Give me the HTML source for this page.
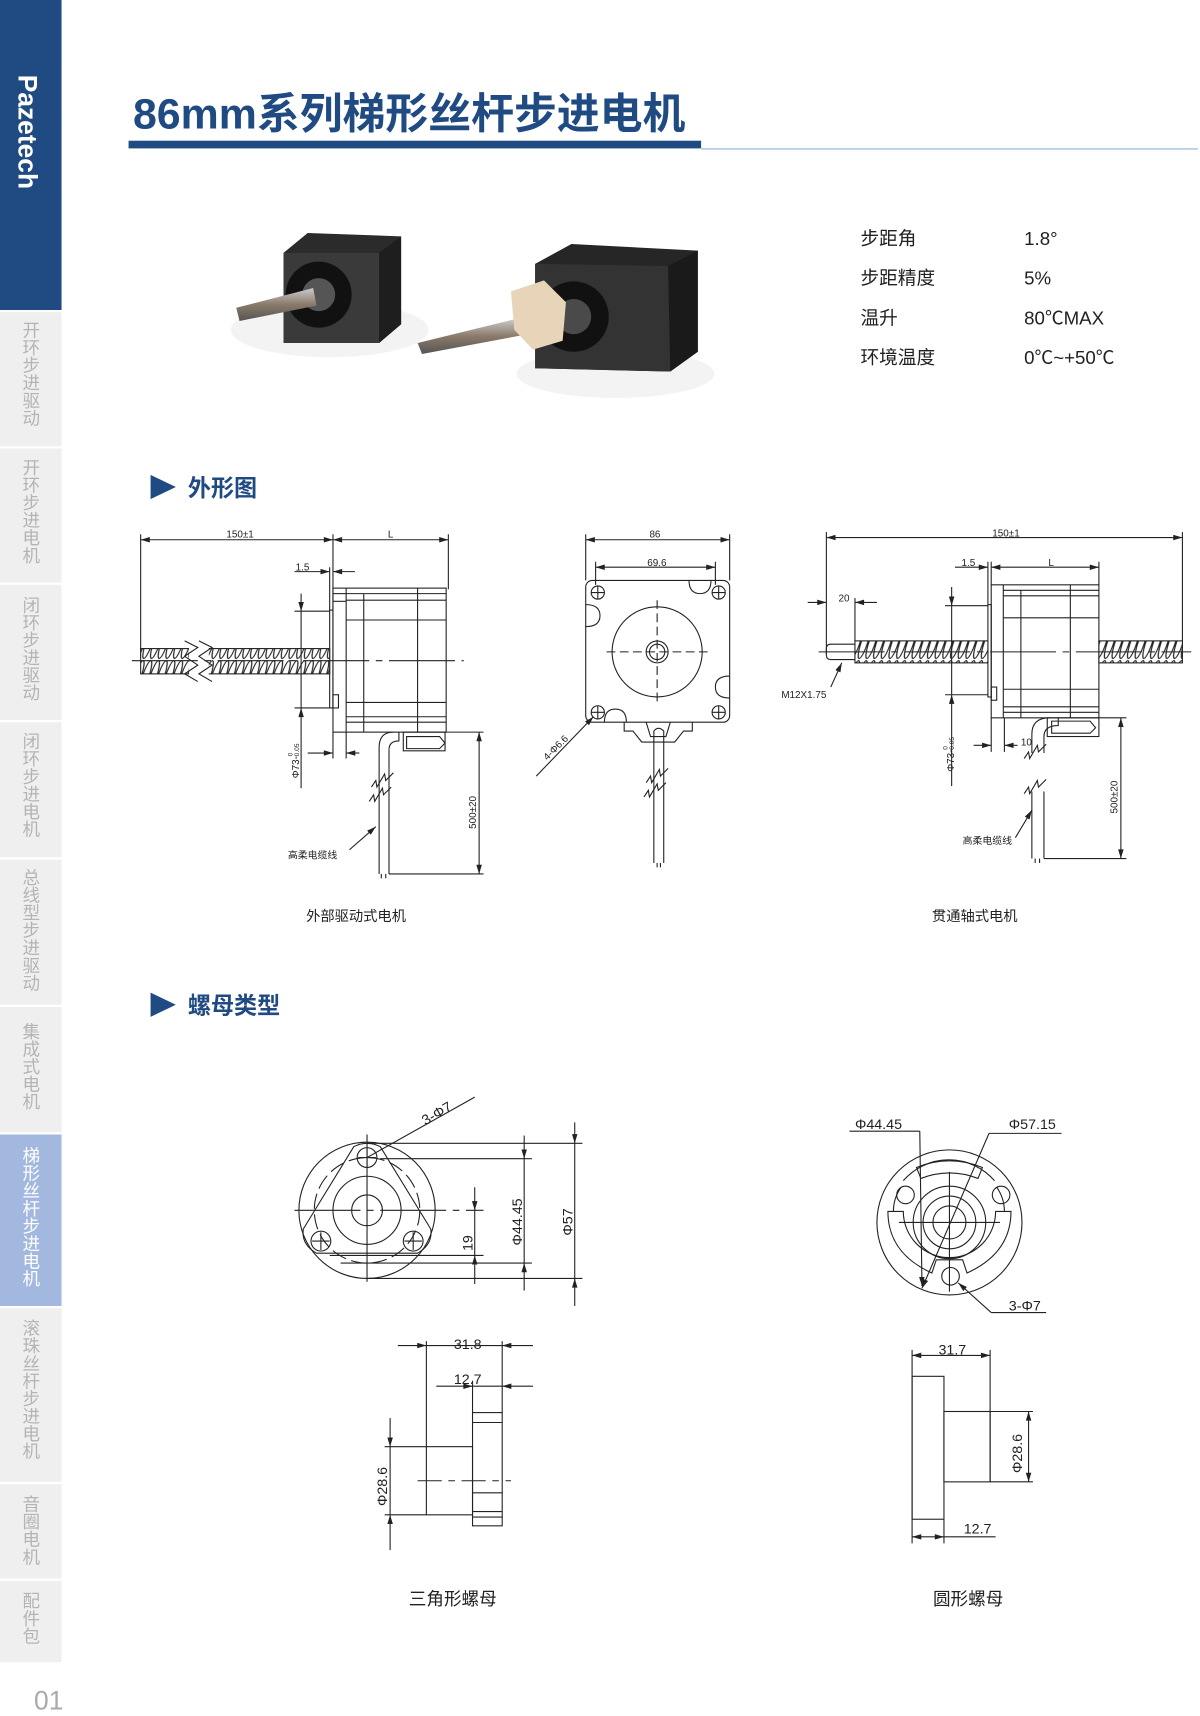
<!DOCTYPE html>
<html><head><meta charset="utf-8"><style>
html,body{margin:0;padding:0;background:#fff;}
svg{display:block}
text{font-family:"Liberation Sans","Noto Sans CJK SC",sans-serif;}
</style></head><body>
<svg width="1200" height="1716" viewBox="0 0 1092 1561" preserveAspectRatio="none" xmlns="http://www.w3.org/2000/svg">
<defs>
<pattern id="thr" width="7" height="30" patternUnits="userSpaceOnUse" patternTransform="skewX(-18)">
<rect width="7" height="30" fill="#fff"/>
<ellipse cx="3.5" cy="15" rx="3" ry="14" fill="none" stroke="#222" stroke-width="1.1"/>
</pattern>
<marker id="a" viewBox="0 0 10 6" refX="10" refY="3" markerWidth="9" markerHeight="5" orient="auto-start-reverse" markerUnits="userSpaceOnUse"><path d="M0,0L10,3L0,6z" fill="#222"/></marker>
<linearGradient id="sh" x1="0" y1="0" x2="0" y2="1"><stop offset="0" stop-color="#ccc"/><stop offset="0.5" stop-color="#8a7a6a"/><stop offset="1" stop-color="#555"/></linearGradient>
</defs>

<!-- sidebar -->
<rect x="0" y="0" width="56" height="282" fill="#1f4a82"/>
<text transform="translate(17,68) rotate(90)" font-size="24" font-weight="bold" fill="#fff">Pazetech</text>
<g fill="#efefef">
<rect x="0" y="284" width="56" height="122"/>
<rect x="0" y="408" width="56" height="122"/>
<rect x="0" y="532" width="56" height="123"/>
<rect x="0" y="657" width="56" height="123"/>
<rect x="0" y="782" width="56" height="132"/>
<rect x="0" y="916" width="56" height="114"/>
<rect x="0" y="1190" width="56" height="158"/>
<rect x="0" y="1350" width="56" height="86"/>
<rect x="0" y="1438" width="56" height="74"/>
</g>
<rect x="0" y="1032" width="56" height="156" fill="#a3b8df"/>
<g font-size="16" fill="#b4b4b4" style="writing-mode:vertical-rl">
<text x="28" y="292">开环步进驱动</text>
<text x="28" y="417">开环步进电机</text>
<text x="28" y="542">闭环步进驱动</text>
<text x="28" y="666">闭环步进电机</text>
<text x="28" y="790">总线型步进驱动</text>
<text x="28" y="930">集成式电机</text>
<text x="28" y="1043" fill="#fff">梯形丝杆步进电机</text>
<text x="28" y="1200">滚珠丝杆步进电机</text>
<text x="28" y="1360">音圈电机</text>
<text x="28" y="1448">配件包</text>
</g>
<text x="31" y="1555" font-size="24" fill="#aaa">01</text>

<!-- title -->
<text x="121" y="117" font-size="39" font-weight="bold" fill="#1f4a82">86mm系列梯形丝杆步进电机</text>
<rect x="117" y="128" width="521" height="7" fill="#1f4a82"/>
<rect x="638" y="135" width="452" height="1" fill="#8ab0d8"/>

<!-- photos -->
<g>
<ellipse cx="300" cy="300" rx="90" ry="25" fill="#f3f3f3"/>
<path d="M258,230 L280,212 L365,215 L365,295 L345,312 L258,312z" fill="#2b2b2b"/>
<path d="M258,230 L345,230 L345,312 L258,312z" fill="#3a3a3a"/>
<circle cx="290" cy="268" r="30" fill="#111"/>
<circle cx="290" cy="268" r="15" fill="#555"/>
<path d="M215,280 L285,262 L288,278 L218,292z" fill="url(#sh)"/>
<path d="M345,230 L365,215 L365,295 L345,312z" fill="#1e1e1e"/>
<ellipse cx="560" cy="340" rx="90" ry="22" fill="#f3f3f3"/>
<path d="M487,240 L520,222 L635,228 L635,320 L610,338 L487,335z" fill="#262626"/>
<path d="M487,240 L608,242 L610,338 L487,335z" fill="#333"/>
<circle cx="522" cy="288" r="32" fill="#111"/>
<circle cx="522" cy="288" r="16" fill="#4a4a4a"/>
<path d="M380,312 L470,290 L475,305 L384,322z" fill="url(#sh)"/>
<path d="M465,265 L495,255 L515,275 L512,310 L485,318 L468,300z" fill="#e8d4b8"/>
<path d="M608,242 L635,228 L635,320 L610,338z" fill="#1a1a1a"/>
</g>

<!-- specs -->
<g font-size="17" fill="#222">
<text x="783" y="223">步距角</text><text x="932" y="223">1.8°</text>
<text x="783" y="259">步距精度</text><text x="932" y="259">5%</text>
<text x="783" y="295">温升</text><text x="932" y="295">80℃MAX</text>
<text x="783" y="331">环境温度</text><text x="932" y="331">0℃~+50℃</text>
</g>

<!-- section heads -->
<path d="M137,432 L160,443 L137,454z" fill="#1f4a82"/>
<text x="171" y="451" font-size="21" font-weight="bold" fill="#1f4a82">外形图</text>
<path d="M137,903 L160,914 L137,925z" fill="#1f4a82"/>
<text x="171" y="922" font-size="21" font-weight="bold" fill="#1f4a82">螺母类型</text>

<g stroke="#222" stroke-width="1" fill="none">
<!-- drawing 1 -->
<line x1="128" y1="491" x2="303" y2="491" marker-start="url(#a)" marker-end="url(#a)"/>
<line x1="303" y1="491" x2="408" y2="491" marker-start="url(#a)" marker-end="url(#a)"/>
<line x1="128" y1="486" x2="128" y2="598"/>
<line x1="303" y1="486" x2="303" y2="555"/>
<line x1="408" y1="486" x2="408" y2="536"/>
<line x1="268" y1="520" x2="300" y2="520" marker-end="url(#a)"/>
<line x1="303" y1="520" x2="323" y2="520" marker-start="url(#a)"/>
<line x1="300" y1="516" x2="300" y2="555"/>
<rect x="300" y="555" width="3" height="89"/>
<rect x="303" y="535" width="103" height="131"/>
<line x1="315" y1="535" x2="315" y2="666"/>
<line x1="331" y1="540" x2="331" y2="666"/>
<line x1="380" y1="535" x2="380" y2="666"/>
<line x1="315" y1="540" x2="406" y2="540"/><line x1="315" y1="546" x2="406" y2="546"/><line x1="315" y1="564" x2="406" y2="564"/>
<line x1="315" y1="639" x2="406" y2="639"/><line x1="315" y1="652" x2="406" y2="652"/><line x1="315" y1="657" x2="406" y2="657"/>
<line x1="303" y1="540" x2="315" y2="540"/><line x1="303" y1="547" x2="315" y2="547"/>
<rect x="303" y="632" width="5" height="12"/>
<rect x="128" y="590" width="172" height="23" fill="url(#thr)"/>
<rect x="172" y="585" width="18" height="33" fill="#fff" stroke="none"/>
<path d="M168,583 L180,589 L168,597 L180,605 L168,613 L180,620"/>
<path d="M181,583 L193,589 L181,597 L193,605 L181,613 L193,620"/>
<line x1="120" y1="601" x2="422" y2="601" stroke-dasharray="60,6,6,6"/>
<line x1="274" y1="540" x2="274" y2="556" marker-end="url(#a)"/>
<line x1="274" y1="644" x2="274" y2="717" marker-start="url(#a)"/>
<line x1="274" y1="556" x2="274" y2="644"/>
<line x1="268" y1="556" x2="300" y2="556"/><line x1="268" y1="644" x2="300" y2="644"/>
<line x1="280" y1="685" x2="303" y2="685" marker-end="url(#a)"/>
<line x1="315" y1="685" x2="327" y2="685" marker-start="url(#a)"/>
<line x1="303" y1="666" x2="303" y2="690"/><line x1="315" y1="666" x2="315" y2="690"/>
<path d="M358,666 Q345,666 345,680 L345,795 M354,682 L354,795"/>
<path d="M363,666 L363,674 Q354,674 354,682"/>
<rect x="367" y="666" width="38" height="17"/>
<path d="M370,670 L400,670 L405,676 L400,681 L370,681z"/>
<path d="M338,716 L342,710 L343,716 L350,704 L351,710 L358,703"/>
<path d="M336,729 L340,723 L341,729 L348,717 L349,723 L356,716"/>
<line x1="347" y1="795" x2="347" y2="799"/><line x1="351" y1="795" x2="351" y2="799"/>
<line x1="405" y1="666" x2="440" y2="666"/><line x1="354" y1="795" x2="440" y2="795"/>
<line x1="436" y1="666" x2="436" y2="795" marker-start="url(#a)" marker-end="url(#a)"/>
<line x1="318" y1="773" x2="342" y2="752" marker-end="url(#a)"/>

<!-- drawing 2 -->
<line x1="533" y1="491" x2="664" y2="491" marker-start="url(#a)" marker-end="url(#a)"/>
<line x1="533" y1="486" x2="533" y2="528"/><line x1="664" y1="486" x2="664" y2="528"/>
<line x1="542" y1="516" x2="651" y2="516" marker-start="url(#a)" marker-end="url(#a)"/>
<line x1="542" y1="511" x2="542" y2="532"/><line x1="651" y1="511" x2="651" y2="532"/>
<rect x="533" y="528" width="131" height="129" rx="6"/>
<circle cx="544" cy="539" r="6"/><circle cx="654" cy="539" r="6"/><circle cx="544" cy="648" r="6"/><circle cx="654" cy="648" r="6"/>
<path d="M538,539h12M544,533v12M648,539h12M654,533v12M538,648h12M544,642v12M648,648h12M654,642v12"/>
<path d="M533,550 Q546,550 546,560 Q546,570 533,570"/>
<path d="M664,615 Q651,615 651,625 Q651,635 664,635"/>
<path d="M627,528 Q627,540 637,540 Q647,540 647,528"/>
<path d="M550,657 Q550,645 560,645 Q570,645 570,657"/>
<circle cx="598" cy="593" r="41"/>
<circle cx="598" cy="593" r="10"/><circle cx="598" cy="593" r="7"/>
<line x1="552" y1="593" x2="644" y2="593" stroke-dasharray="8,4"/>
<line x1="598" y1="546" x2="598" y2="640" stroke-dasharray="8,4"/>
<path d="M568,657 L568,665 L576,665 L584,675 L614,675 L622,665 L630,665 L630,657"/>
<path d="M588,657 L592,670 L606,670 L610,657"/>
<path d="M595,665 Q599,660 604,665 L604,785 M595,665 L595,785"/>
<path d="M588,712 L592,706 L593,712 L600,700 L601,706 L608,699"/>
<path d="M586,725 L590,719 L591,725 L598,713 L599,719 L606,712"/>
<line x1="598" y1="785" x2="598" y2="789"/><line x1="601" y1="785" x2="601" y2="789"/>
<line x1="488" y1="706" x2="540" y2="652" marker-end="url(#a)"/>

<!-- drawing 3 -->
<line x1="752" y1="489" x2="1076" y2="489" marker-start="url(#a)" marker-end="url(#a)"/>
<line x1="752" y1="484" x2="752" y2="595"/><line x1="1076" y1="484" x2="1076" y2="590"/>
<line x1="869" y1="516" x2="899" y2="516" marker-end="url(#a)"/>
<line x1="902" y1="516" x2="1000" y2="516" marker-start="url(#a)" marker-end="url(#a)"/>
<line x1="899" y1="511" x2="899" y2="550"/><line x1="902" y1="511" x2="902" y2="532"/><line x1="1000" y1="511" x2="1000" y2="532"/>
<line x1="735" y1="548" x2="752" y2="548" marker-end="url(#a)"/>
<line x1="778" y1="548" x2="798" y2="548" marker-start="url(#a)"/>
<line x1="778" y1="544" x2="778" y2="584"/>
<rect x="899" y="550" width="3" height="84"/>
<rect x="902" y="532" width="98" height="121"/>
<line x1="913" y1="532" x2="913" y2="653"/><line x1="929" y1="537" x2="929" y2="653"/><line x1="974" y1="532" x2="974" y2="653"/>
<line x1="913" y1="537" x2="1000" y2="537"/><line x1="913" y1="542" x2="1000" y2="542"/><line x1="913" y1="562" x2="1000" y2="562"/>
<line x1="913" y1="627" x2="1000" y2="627"/><line x1="913" y1="643" x2="1000" y2="643"/><line x1="913" y1="648" x2="1000" y2="648"/>
<rect x="902" y="625" width="5" height="12"/>
<rect x="778" y="583" width="121" height="20" fill="url(#thr)"/>
<rect x="1000" y="583" width="76" height="20" fill="url(#thr)"/>
<path d="M778,586 L756,586 Q752,586 752,590 L752,596 Q752,600 756,600 L778,600"/>
<line x1="745" y1="593" x2="1084" y2="593" stroke-dasharray="60,6,6,6"/>
<line x1="756" y1="625" x2="766" y2="603" marker-end="url(#a)"/>
<line x1="866" y1="534" x2="866" y2="551" marker-end="url(#a)"/>
<line x1="866" y1="632" x2="866" y2="715" marker-start="url(#a)"/>
<line x1="866" y1="551" x2="866" y2="632"/>
<line x1="860" y1="551" x2="899" y2="551"/><line x1="860" y1="632" x2="899" y2="632"/>
<line x1="886" y1="678" x2="902" y2="678" marker-end="url(#a)"/>
<line x1="914" y1="678" x2="926" y2="678" marker-start="url(#a)"/>
<line x1="902" y1="653" x2="902" y2="684"/><line x1="914" y1="653" x2="914" y2="684"/>
<path d="M955,653 Q939,653 939,668 L939,685 M963,653 L963,660 Q950,660 950,670 L950,685"/>
<path d="M939,720 L939,781 M950,720 L950,781"/>
<rect x="953" y="653" width="47" height="17"/>
<path d="M957,656 L992,656 L997,662 L992,667 L957,667z"/>
<path d="M932,690 L936,684 L937,690 L944,678 L945,684 L952,677"/>
<path d="M932,722 L936,716 L937,722 L944,710 L945,716 L952,709"/>
<line x1="942" y1="781" x2="942" y2="785"/><line x1="946" y1="781" x2="946" y2="785"/>
<line x1="1000" y1="653" x2="1025" y2="653"/><line x1="950" y1="781" x2="1025" y2="781"/>
<line x1="1020" y1="653" x2="1020" y2="781" marker-start="url(#a)" marker-end="url(#a)"/>
<line x1="924" y1="762" x2="939" y2="737" marker-end="url(#a)"/>

<!-- triangle nut -->
<circle cx="334" cy="1101" r="62"/>
<circle cx="334" cy="1101" r="48" stroke-dasharray="14,5"/>
<path d="M322,1043 Q334,1037 346,1043 L392,1118 Q394,1132 380,1140 L288,1140 Q274,1132 276,1118z"/>
<circle cx="334" cy="1101" r="31"/><circle cx="334" cy="1101" r="14"/>
<circle cx="334" cy="1053" r="9"/><circle cx="292" cy="1129" r="9"/><circle cx="376" cy="1129" r="9"/>
<path d="M326,1053h16M334,1045v16M284,1129h16M292,1121v16M368,1129h16M376,1121v16"/>
<line x1="268" y1="1101" x2="440" y2="1101" stroke-dasharray="60,6,6,6"/>
<line x1="334" y1="1032" x2="334" y2="1166"/>
<line x1="334" y1="1053" x2="432" y2="998"/>
<line x1="334" y1="1040" x2="530" y2="1040"/>
<line x1="346" y1="1054" x2="484" y2="1054"/>
<line x1="300" y1="1142" x2="440" y2="1142"/>
<line x1="310" y1="1149" x2="484" y2="1149"/>
<line x1="334" y1="1163" x2="530" y2="1163"/>
<line x1="432" y1="1080" x2="432" y2="1101" marker-end="url(#a)"/>
<line x1="432" y1="1101" x2="432" y2="1142"/>
<line x1="432" y1="1142" x2="432" y2="1168" marker-start="url(#a)"/>
<line x1="477" y1="1033" x2="477" y2="1054" marker-end="url(#a)"/>
<line x1="477" y1="1054" x2="477" y2="1149"/>
<line x1="477" y1="1149" x2="477" y2="1174" marker-start="url(#a)"/>
<line x1="523" y1="1021" x2="523" y2="1040" marker-end="url(#a)"/>
<line x1="523" y1="1040" x2="523" y2="1163"/>
<line x1="523" y1="1163" x2="523" y2="1188" marker-start="url(#a)"/>

<line x1="362" y1="1224" x2="388" y2="1224" marker-end="url(#a)"/>
<line x1="388" y1="1224" x2="457" y2="1224"/>
<line x1="457" y1="1224" x2="485" y2="1224" marker-start="url(#a)"/>
<line x1="397" y1="1261" x2="430" y2="1261" marker-end="url(#a)"/>
<line x1="430" y1="1261" x2="457" y2="1261"/>
<line x1="457" y1="1261" x2="485" y2="1261" marker-start="url(#a)"/>
<line x1="388" y1="1220" x2="388" y2="1316"/><line x1="457" y1="1220" x2="457" y2="1285"/><line x1="430" y1="1256" x2="430" y2="1285"/>
<rect x="430" y="1285" width="27" height="103"/>
<line x1="430" y1="1294" x2="457" y2="1294"/><line x1="430" y1="1358" x2="457" y2="1358"/><line x1="430" y1="1375" x2="457" y2="1375"/><line x1="430" y1="1380" x2="457" y2="1380"/>
<rect x="388" y="1316" width="42" height="62"/>
<line x1="380" y1="1347" x2="465" y2="1347" stroke-dasharray="22,6,6,6"/>
<line x1="355" y1="1290" x2="355" y2="1316" marker-end="url(#a)"/>
<line x1="355" y1="1316" x2="355" y2="1378"/>
<line x1="355" y1="1378" x2="355" y2="1410" marker-start="url(#a)"/>
<line x1="350" y1="1316" x2="388" y2="1316"/><line x1="350" y1="1378" x2="388" y2="1378"/>

<!-- round nut -->
<circle cx="864" cy="1112" r="66"/>
<path d="M813,1102 Q813,1090 820,1080 M822,1074 A55,55 0 0 1 905,1074 M907,1080 Q914,1090 914,1102"/>
<path d="M808,1102 L822,1102 A42,42 0 0 0 906,1102 L920,1102 Q920,1140 880,1158 L876,1146 L852,1146 L848,1158 Q808,1140 808,1102z"/>
<path d="M838,1072 L834,1062 Q864,1050 894,1062 L890,1072 Q864,1062 838,1072z"/>
<circle cx="864" cy="1112" r="33"/><circle cx="864" cy="1112" r="24"/><circle cx="864" cy="1112" r="15"/>
<circle cx="824" cy="1087" r="8"/><circle cx="911" cy="1087" r="8"/><circle cx="865" cy="1161" r="8"/>
<line x1="818" y1="1112" x2="910" y2="1112"/><line x1="864" y1="1066" x2="864" y2="1175"/>
<line x1="773" y1="1029" x2="837" y2="1029"/>
<line x1="837" y1="1029" x2="839" y2="1170" marker-end="url(#a)"/>
<line x1="900" y1="1031" x2="966" y2="1031"/>
<line x1="900" y1="1031" x2="839" y2="1172" marker-end="url(#a)"/>
<line x1="902" y1="1194" x2="952" y2="1194"/>
<line x1="902" y1="1194" x2="872" y2="1167" marker-end="url(#a)"/>

<line x1="830" y1="1233" x2="901" y2="1233" marker-start="url(#a)" marker-end="url(#a)"/>
<line x1="830" y1="1228" x2="830" y2="1404"/><line x1="901" y1="1228" x2="901" y2="1348"/>
<rect x="830" y="1252" width="29" height="130"/>
<line x1="859" y1="1382" x2="859" y2="1404"/>
<rect x="859" y="1284" width="42" height="64"/>
<line x1="901" y1="1284" x2="940" y2="1284"/><line x1="901" y1="1348" x2="940" y2="1348"/>
<line x1="936" y1="1284" x2="936" y2="1348" marker-start="url(#a)" marker-end="url(#a)"/>
<line x1="830" y1="1398" x2="859" y2="1398" marker-start="url(#a)" marker-end="url(#a)"/>
<line x1="859" y1="1398" x2="906" y2="1398"/>
</g>

<!-- labels -->
<g font-size="9" fill="#222">
<text x="206" y="489">150±1</text><text x="353" y="489">L</text>
<text x="269" y="519">1.5</text>
<text transform="translate(272,708) rotate(-90)">Φ73-</text>
<text transform="translate(266,688) rotate(-90)" font-size="6">0</text>
<text transform="translate(272,688) rotate(-90)" font-size="6">0.05</text>
<text transform="translate(433,754) rotate(-90)">500±20</text>
<text x="262" y="781">高柔电缆线</text>
<text x="591" y="489">86</text><text x="589" y="515">69.6</text>
<text transform="translate(498,692) rotate(-45)">4-Φ6.6</text>
<text x="903" y="488">150±1</text><text x="875" y="515">1.5</text><text x="954" y="515">L</text>
<text x="763" y="547">20</text><text x="711" y="635">M12X1.75</text>
<text transform="translate(868,702) rotate(-90)">Φ73-</text>
<text transform="translate(862,682) rotate(-90)" font-size="6">0</text>
<text transform="translate(868,682) rotate(-90)" font-size="6">0.05</text>
<text x="929" y="678">10</text>
<text transform="translate(1017,740) rotate(-90)">500±20</text>
<text x="876" y="768">高柔电缆线</text>
</g>
<g font-size="13" fill="#222" text-anchor="middle">
<text x="324" y="838">外部驱动式电机</text>
<text x="887" y="838">贯通轴式电机</text>
</g>
<g font-size="13" fill="#222">
<text transform="translate(387,1024) rotate(-30)">3-Φ7</text>
<text transform="translate(430,1138) rotate(-90)">19</text>
<text transform="translate(475,1133) rotate(-90)">Φ44.45</text>
<text transform="translate(521,1124) rotate(-90)">Φ57</text>
<text x="413" y="1227">31.8</text><text x="413" y="1259">12.7</text>
<text transform="translate(352,1370) rotate(-90)">Φ28.6</text>
<text x="778" y="1027">Φ44.45</text><text x="918" y="1027">Φ57.15</text>
<text x="918" y="1192">3-Φ7</text>
<text x="854" y="1232">31.7</text>
<text transform="translate(930,1340) rotate(-90)">Φ28.6</text>
<text x="877" y="1395">12.7</text>
</g>
<g font-size="16" fill="#222" text-anchor="middle">
<text x="412" y="1460">三角形螺母</text>
<text x="881" y="1460">圆形螺母</text>
</g>
</svg>
</body></html>
